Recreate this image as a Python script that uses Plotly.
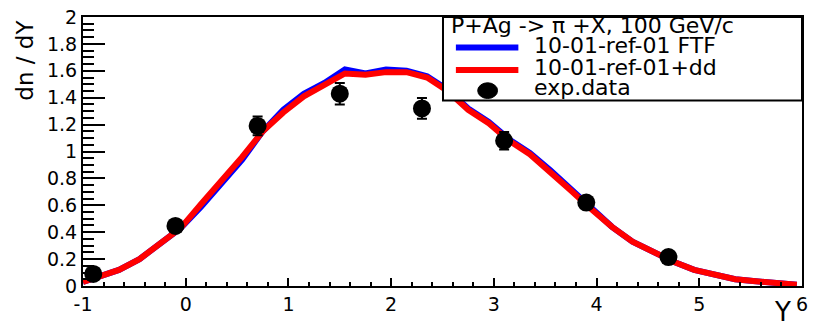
import plotly.graph_objects as go

# ---------------- data ----------------
x_curve = [-1.0, -0.85, -0.65, -0.45, -0.25, -0.05, 0.15, 0.35, 0.55, 0.75, 0.95,
           1.15, 1.35, 1.55, 1.75, 1.95, 2.15, 2.35, 2.55, 2.75, 2.95, 3.15, 3.35,
           3.55, 3.75, 3.95, 4.15, 4.35, 4.55, 4.75, 4.95, 5.15, 5.35, 5.55, 5.75, 5.95]
ftf_vals = [0.03, 0.07, 0.12, 0.20, 0.32, 0.43, 0.59, 0.76, 0.94, 1.15, 1.31,
            1.43, 1.51, 1.61, 1.58, 1.61, 1.60, 1.56, 1.46, 1.32, 1.22, 1.09, 0.99,
            0.86, 0.72, 0.57, 0.44, 0.33, 0.25, 0.18, 0.12, 0.08, 0.05, 0.035, 0.02, 0.01]
dd_vals = [0.03, 0.07, 0.12, 0.20, 0.32, 0.43, 0.61, 0.78, 0.96, 1.15, 1.29,
           1.41, 1.50, 1.58, 1.57, 1.59, 1.59, 1.55, 1.45, 1.31, 1.21, 1.08, 0.98,
           0.85, 0.71, 0.57, 0.44, 0.33, 0.25, 0.18, 0.12, 0.08, 0.05, 0.035, 0.02, 0.01]

x_data = [-0.9, -0.1, 0.7, 1.5, 2.3, 3.1, 3.9, 4.7]
y_data = [0.09, 0.447, 1.19, 1.43, 1.32, 1.08, 0.62, 0.215]
y_err = [0.02, 0.03, 0.07, 0.08, 0.077, 0.065, 0.04, 0.02]

x_tick_vals = [-1, 0, 1, 2, 3, 4, 5, 6]
x_tick_text = ["-1", "0", "1", "2", "3", "4", "5", "6"]

legend_title = "P+Ag -> \u03c0 +X, 100 GeV/c"
legend_labels = ["10-01-ref-01 FTF", "10-01-ref-01+dd", "exp.data"]

# ---------------- geometry ----------------
W, H = 814, 321
L, R, T, B = 83, 808, 13, 287
FONT = "DejaVu Sans"


def px(X):
    return (X - L) / (R - L)


def py(Y):
    return (B - Y) / (B - T)


fig = go.Figure()
fig.add_trace(go.Scatter(x=x_curve, y=ftf_vals, mode="lines",
                         line=dict(color="#0000ff", width=6), showlegend=False))
fig.add_trace(go.Scatter(x=x_curve, y=dd_vals, mode="lines",
                         line=dict(color="#ff0000", width=6), showlegend=False))
fig.add_trace(go.Scatter(x=x_data, y=y_data, mode="markers",
                         marker=dict(color="black", size=18, symbol="circle"),
                         error_y=dict(type="data", array=y_err, color="black",
                                      thickness=2, width=5),
                         showlegend=False))

shapes = []
# legend box
shapes.append(dict(type="rect", xref="paper", yref="paper",
                   x0=px(446), x1=px(808), y0=py(98), y1=py(13),
                   line=dict(color="black", width=2), fillcolor="white", layer="above"))
shapes.append(dict(type="line", xref="paper", yref="paper",
                   x0=px(459), x1=px(522), y0=py(44), y1=py(44),
                   line=dict(color="#0000ff", width=6), layer="above"))
shapes.append(dict(type="line", xref="paper", yref="paper",
                   x0=px(459), x1=px(522), y0=py(67), y1=py(67),
                   line=dict(color="#ff0000", width=6), layer="above"))
shapes.append(dict(type="circle", xref="paper", yref="paper",
                   x0=px(481), x1=px(501), y0=py(96), y1=py(80),
                   line=dict(color="black", width=1), fillcolor="black", layer="above"))

annotations = []
annotations.append(dict(text=legend_title, xref="paper", yref="paper",
                        x=px(452), y=py(22), xanchor="left", yanchor="middle",
                        showarrow=False, font=dict(family=FONT, size=22, color="black")))
for lab, yy in zip(legend_labels, [42, 64, 85]):
    annotations.append(dict(text=lab, xref="paper", yref="paper",
                            x=px(536), y=py(yy), xanchor="left", yanchor="middle",
                            showarrow=False, font=dict(family=FONT, size=22, color="black")))
annotations.append(dict(text="dn / dY", xref="paper", yref="paper",
                        x=px(25), y=py(57), xanchor="center", yanchor="middle",
                        textangle=-90, showarrow=False,
                        font=dict(family=FONT, size=23, color="black")))
annotations.append(dict(text="Y", xref="paper", yref="paper",
                        x=px(788), y=py(296), xanchor="center", yanchor="top",
                        showarrow=False, font=dict(family=FONT, size=26, color="black")))

fig.update_layout(
    width=W, height=H,
    margin=dict(l=L, r=W - R, t=T, b=H - B),
    paper_bgcolor="white", plot_bgcolor="white",
    shapes=shapes, annotations=annotations,
    showlegend=False,
    font=dict(family=FONT, color="black"),
)
fig.update_xaxes(range=[-1, 6], tickmode="array", tickvals=x_tick_vals, ticktext=x_tick_text,
                 ticks="inside", ticklen=8, tickwidth=2,
                 tickcolor="black", minor=dict(dtick=0.2, tick0=-1, ticks="inside", ticklen=4,
                                               tickwidth=2, tickcolor="black"),
                 showline=True, linecolor="black", linewidth=2, mirror=True,
                 showgrid=False, zeroline=False,
                 tickfont=dict(family=FONT, size=19, color="black"))
fig.update_yaxes(range=[0, 2], dtick=0.2, tick0=0, ticks="inside", ticklen=22, tickwidth=2,
                 tickcolor="black", minor=dict(dtick=0.05, ticks="inside", ticklen=11,
                                               tickwidth=2, tickcolor="black"),
                 showline=True, linecolor="black", linewidth=2, mirror=True,
                 showgrid=False, zeroline=False,
                 tickfont=dict(family=FONT, size=19, color="black"))

fig.write_html("out.html")
